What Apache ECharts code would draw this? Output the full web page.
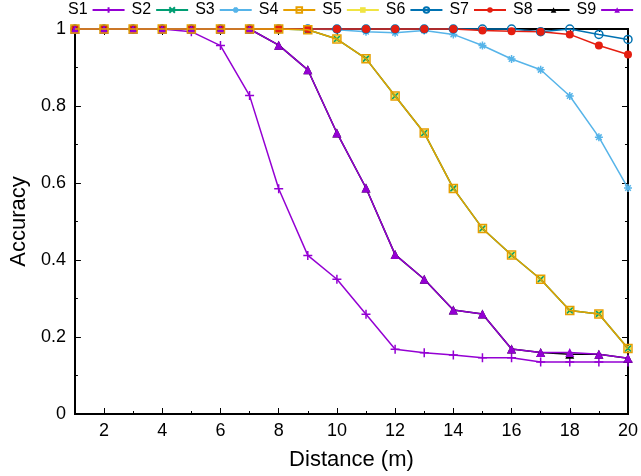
<!DOCTYPE html>
<html>
<head>
<meta charset="utf-8">
<script src="https://cdn.jsdelivr.net/npm/echarts@6/dist/echarts.min.js"></script>
<style>html,body{margin:0;padding:0;background:#fff}#c{width:641px;height:476px}</style>
</head>
<body>
<div id="c"></div>
<script>
// ---- data ----
var distance = [1,2,3,4,5,6,7,8,9,10,11,12,13,14,15,16,17,18,19,20];
var S1 = [1,1,1,1,0.993,0.957,0.827,0.585,0.412,0.35,0.259,0.168,0.159,0.153,0.146,0.146,0.135,0.135,0.135,0.135];
var S2 = [1,1,1,1,1,1,1,1,0.998,0.974,0.923,0.826,0.73,0.586,0.482,0.413,0.35,0.269,0.26,0.17];
var S3 = [1,1,1,1,1,1,1,1,1,0.998,0.993,0.99,0.996,0.986,0.957,0.922,0.894,0.826,0.719,0.587];
var S4 = [1,1,1,1,1,1,1,1,0.998,0.974,0.923,0.826,0.73,0.586,0.482,0.413,0.35,0.269,0.26,0.17];
var S5 = [1,1,1,1,1,1,1,1,0.998,0.974,0.923,0.826,0.73,0.586,0.482,0.413,0.35,0.269,0.26,0.17];
var S6 = [1,1,1,1,1,1,1,1,1,1,1,1,1,1,1,1,0.993,1,0.986,0.973];
var S7 = [1,1,1,1,1,1,1,1,1,1,1,1,1,1,0.996,0.994,0.993,0.986,0.957,0.934];
var S8 = [1,1,1,1,1,1,1,0.958,0.894,0.73,0.587,0.414,0.35,0.27,0.26,0.169,0.16,0.155,0.155,0.145];
var S9 = [1,1,1,1,1,1,1,0.958,0.894,0.73,0.587,0.414,0.35,0.27,0.26,0.169,0.16,0.16,0.155,0.145];
var xMajorTicks = [2,4,6,8,10,12,14,16,18,20];
var xMinorTicks = [3,5,7,9,11,13,15,17,19];
var names = ['S1','S2','S3','S4','S5','S6','S7','S8','S9'];

function pairs(v){ return distance.map(function(d,i){ return [d, v[i]]; }); }

var FONT = '"Liberation Sans", Arial, Helvetica, sans-serif';
var PLUS = 'path://M0,10H20M10,0V20';
var CROSS = 'path://M0,0L20,20M20,0L0,20';
var STAR = 'path://M0,10H20M10,0V20M3,3L17,17M17,3L3,17';

function mk(name, data, color, symbol, size, stroke, extra){
  var s = {
    name: name, type: 'line', data: pairs(data),
    xAxisIndex: 0, yAxisIndex: 0,
    symbol: symbol, symbolSize: size, showSymbol: true,
    lineStyle: { color: color, width: 1.5 },
    itemStyle: stroke ? { color: 'rgba(0,0,0,0)', borderColor: color, borderWidth: 1.5 }
                      : { color: color, borderWidth: 0 },
    emphasis: { disabled: true },
    clip: false
  };
  if (extra) for (var k in extra) s[k] = extra[k];
  return s;
}

var series = [
  mk('S1', S1, '#9400d3', PLUS, 9, true),
  mk('S2', S2, '#009e73', CROSS, 6, true, { z: 3 }),
  mk('S3', S3, '#56b4e9', STAR, 8, true),
  mk('S4', S4, '#e69f00', 'rect', 8, true, { z: 4 }),
  mk('S5', S5, '#f0e442', 'rect', 6, false, { z: 1 }),
  mk('S6', S6, '#0072b2', 'circle', 8, true),
  mk('S7', S7, '#e51e10', 'circle', 8, false),
  mk('S8', S8, '#000000', 'triangle', 9, false),
  mk('S9', S9, '#9400d3', 'triangle', 9, false)
];

function xAx(pos, ticks, len, labels){
  return {
    type: 'value', min: 1, max: 20, position: pos, gridIndex: 0,
    axisLine: { show: true, onZero: false, lineStyle: { color: '#000', width: 2 } },
    axisTick: { show: true, inside: true, length: len, customValues: ticks, lineStyle: { color: '#000', width: 1 } },
    axisLabel: labels ? { show: true, customValues: ticks, color: '#000', fontSize: 18, fontFamily: FONT, margin: 8 } : { show: false },
    splitLine: { show: false },
    name: labels ? 'Distance (m)' : '',
    nameLocation: 'middle', nameGap: 35,
    nameTextStyle: { color: '#000', fontSize: 22, fontFamily: FONT }
  };
}

var option = {
  animation: false,
  backgroundColor: '#fff',
  grid: { left: 71, right: 12, top: 29, bottom: 61, containLabel: false },
  legend: {
    data: names,
    top: 2, left: 68, right: 0,
    padding: 0,
    align: 'right',
    itemWidth: 32, itemHeight: 7, itemGap: 6,
    textStyle: { color: '#000', fontSize: 16, fontFamily: FONT },
    selectedMode: false
  },
  xAxis: [
    xAx('bottom', xMajorTicks, 6, true),
    xAx('bottom', xMinorTicks, 3, false),
    xAx('top', xMajorTicks, 6, false),
    xAx('top', xMinorTicks, 3, false)
  ],
  yAxis: [
    {
      type: 'value', min: 0, max: 1, interval: 0.2, position: 'left',
      axisLine: { show: true, lineStyle: { color: '#000', width: 2 } },
      axisTick: { show: true, inside: true, length: 6, lineStyle: { color: '#000' } },
      minorTick: { show: true, splitNumber: 2, length: 3, lineStyle: { color: '#000' } },
      axisLabel: { color: '#000', fontSize: 18, fontFamily: FONT, margin: 9 },
      splitLine: { show: false },
      name: 'Accuracy', nameLocation: 'middle', nameGap: 42, nameRotate: 90,
      nameTextStyle: { color: '#000', fontSize: 22, fontFamily: FONT }
    },
    {
      type: 'value', min: 0, max: 1, interval: 0.2, position: 'right',
      axisLine: { show: true, lineStyle: { color: '#000', width: 2 } },
      axisTick: { show: true, inside: true, length: 6, lineStyle: { color: '#000' } },
      minorTick: { show: true, splitNumber: 2, length: 3, lineStyle: { color: '#000' } },
      axisLabel: { show: false },
      splitLine: { show: false }
    }
  ],
  series: series
};

var chart = echarts.init(document.getElementById('c'), null, { renderer: 'canvas' });
chart.setOption(option);
</script>
</body>
</html>
